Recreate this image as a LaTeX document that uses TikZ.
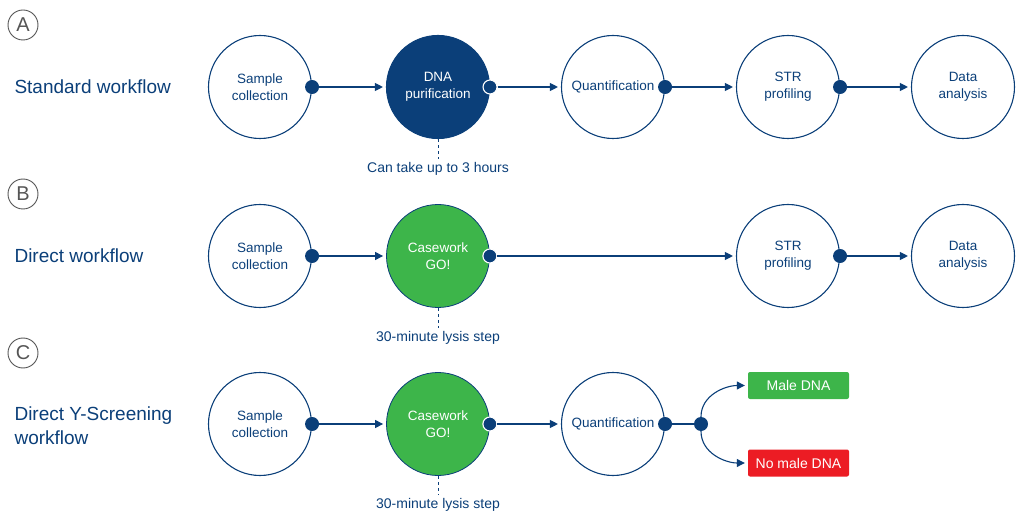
\documentclass[tikz,border=0pt]{standalone}
\usepackage{fontspec}
\setmainfont{Liberation Sans}
\usepackage{tikz}
\usetikzlibrary{positioning}
\usetikzlibrary{calc}
\usetikzlibrary{arrows.meta}
\definecolor{qblue}{HTML}{0B3F79}
\definecolor{qgreen}{HTML}{3DB54A}
\definecolor{qred}{HTML}{EC1C24}
\definecolor{qgrey}{HTML}{555555}
\tikzset{
	stepcirc/.style={draw=qblue, line width=1.1pt, circle, minimum size=103pt, inner sep=0pt, align=center, text=qblue, font=\fontsize{13.5}{17}\selectfont},
	darkcirc/.style={stepcirc, fill=qblue, text=white},
	gocirc/.style={stepcirc, fill=qgreen, line width=0.8pt, text=white},
	jdot/.style={circle, fill=qblue, inner sep=0pt, minimum size=14pt},
	wdot/.style={jdot, draw=white, line width=1.1pt},
	flow/.style={draw=qblue, line width=1.1pt, -{Triangle[length=8pt,width=8pt]}, shorten >=3pt},
	note/.style={text=qblue, font=\fontsize{14}{17}\selectfont},
	wflabel/.style={anchor=west, align=left, text=qblue, font=\fontsize{19}{24}\selectfont},
	letter/.style={draw=qgrey, line width=0.9pt, circle, minimum size=30pt, inner sep=0pt, text=qgrey, font=\fontsize{20}{20}\selectfont},
	result/.style={rounded corners=2pt, minimum width=101pt, minimum height=27pt, inner sep=0pt, text=white, font=\fontsize{14}{17}\selectfont}
}
\begin{document}
\begin{tikzpicture}[x=1pt, y=-1pt]
	\useasboundingbox (0,0) rectangle (1018,513);
	
	% A: standard
	\node[letter] at (23,25) (letA) {A};
	\node[wflabel] at (11,87) (wfA) {Standard workflow};
	\node[stepcirc] at (260,87) (sampA) {Sample\\collection};
	\node[darkcirc] at (438,87) (purifA) {DNA\\purification};
	\node[stepcirc] at (613,87) (quantA) {Quantification};
	\node[stepcirc] at (788,87) (strA) {STR\\profiling};
	\node[stepcirc] at (963,87) (dataA) {Data\\analysis};
	\node[jdot] at (sampA.east) (dA1) {};
	\node[wdot] at (purifA.east) (dA2) {};
	\node[jdot] at (quantA.east) (dA3) {};
	\node[jdot] at (strA.east) (dA4) {};
	\draw[flow] (dA1) -- (purifA);
	\draw[flow] (dA2) -- (quantA);
	\draw[flow] (dA3) -- (strA);
	\draw[flow] (dA4) -- (dataA);
	\node[note] at (438,169) (noteA) {Can take up to 3 hours};
	\draw[qblue, line width=0.9pt, dash pattern=on 3pt off 3pt] (purifA.south) -- (noteA.north);
	
	% B: direct
	\node[letter] at (23,194) (letB) {B};
	\node[wflabel] at (11,256) (wfB) {Direct workflow};
	\node[stepcirc] at (260,256) (sampB) {Sample\\collection};
	\node[gocirc] at (438,256) (goB) {Casework\\GO!};
	\node[stepcirc] at (788,256) (strB) {STR\\profiling};
	\node[stepcirc] at (963,256) (dataB) {Data\\analysis};
	\node[jdot] at (sampB.east) (dB1) {};
	\node[wdot] at (goB.east) (dB2) {};
	\node[jdot] at (strB.east) (dB3) {};
	\draw[flow] (dB1) -- (goB);
	\draw[flow] (dB2) -- (strB);
	\draw[flow] (dB3) -- (dataB);
	\node[note] at (438,338) (noteB) {30-minute lysis step};
	\draw[qblue, line width=0.9pt, dash pattern=on 3pt off 3pt] (goB.south) -- (noteB.north);
	
	% C: direct Y-screening
	\node[letter] at (23,353) (letC) {C};
	\node[wflabel] at (11,426) (wfC) {Direct Y-Screening\\workflow};
	\node[stepcirc] at (260,424) (sampC) {Sample\\collection};
	\node[gocirc] at (438,424) (goC) {Casework\\GO!};
	\node[stepcirc] at (613,424) (quantC) {Quantification};
	\node[jdot] at (sampC.east) (dC1) {};
	\node[wdot] at (goC.east) (dC2) {};
	\node[jdot] at (quantC.east) (dC3) {};
	\node[jdot] at (701,424) (split) {};
	\node[result, fill=qgreen] at (798.5,385.5) (male) {Male DNA};
	\node[result, fill=qred] at (798.5,463) (nomale) {No male DNA};
	\draw[flow] (dC1) -- (goC);
	\draw[flow] (dC2) -- (quantC);
	\draw[qblue, line width=1.1pt] (dC3) -- (split);
	\draw[flow] (split) to[out=90, in=180] (male.west);
	\draw[flow] (split) to[out=-90, in=180] (nomale.west);
	\node[note] at (438,505) (noteC) {30-minute lysis step};
	\draw[qblue, line width=0.9pt, dash pattern=on 3pt off 3pt] (goC.south) -- (noteC.north);
	
\end{tikzpicture}
\end{document}
